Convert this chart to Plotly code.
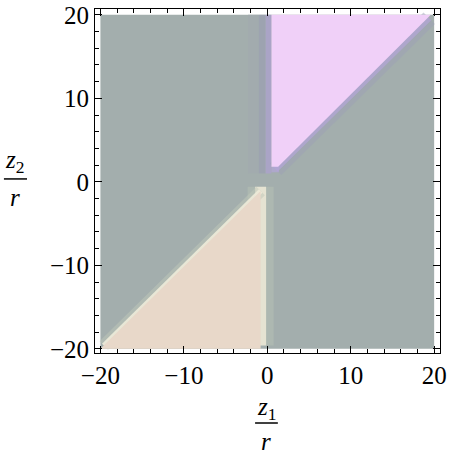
import plotly.graph_objects as go

# region outlines (data units, z/r)
BOX_X = [-20, 20, 20, -20]
BOX_Y = [-20, -20, 20, 20]
PINK_X = [0.5, 0.5, 19.6, 1.3]
PINK_Y = [1.8, 20, 20, 1.8]
PEACH_X = [-20, -0.8, -0.8]
PEACH_Y = [-20, -20, -1.1]
# soft vertical strip above the origin
STRIP_X = [[-2.3, -1.0], [-1.0, -0.2], [-0.2, 0.5]]
STRIP_Y = [1.0, 20]
# edges of the two regions
PINK_DIAG_X = [1.0, 19.4]
PINK_DIAG_Y = [1.5, 19.6]
PEACH_DIAG_X = [-19.6, -0.8]
PEACH_DIAG_Y = [-19.6, -1.1]
PEACH_EDGE_X = [-0.8, -0.8]
PEACH_EDGE_Y = [-19.6, -0.6]

TICKS = [-20, -10, 0, 10, 20]

GRAY = "#a3aead"
PINK = "#f0d0f8"
PEACH = "#e8d8c9"
STRIP_COLORS = ["#a2abae", "#9da3b0", "#aaa4c6"]

FONT = "Liberation Serif"

fig = go.Figure()


def poly(xs, ys, color, opacity=1.0):
    fig.add_trace(go.Scatter(
        x=list(xs) + [xs[0]], y=list(ys) + [ys[0]],
        mode="lines", fill="toself", fillcolor=color,
        line=dict(width=0, color=color), opacity=opacity,
        hoverinfo="skip", showlegend=False,
    ))


def edge(xs, ys, color, width, opacity=1.0):
    fig.add_trace(go.Scatter(
        x=xs, y=ys, mode="lines",
        line=dict(width=width, color=color), opacity=opacity,
        hoverinfo="skip", showlegend=False,
    ))


poly(BOX_X, BOX_Y, GRAY)

# vertical strip above zero
for (x0, x1), c in zip(STRIP_X, STRIP_COLORS):
    poly([x0, x1, x1, x0], [STRIP_Y[0], STRIP_Y[0], STRIP_Y[1], STRIP_Y[1]], c)

# blurred purple rim of the pink region
edge(PINK_DIAG_X, PINK_DIAG_Y, "#9ea2b6", 16, 0.5)
edge(PINK_DIAG_X, PINK_DIAG_Y, "#b4a6d8", 6, 0.7)
edge([0.5, 1.4], [1.5, 1.5], "#b4a6d8", 6, 0.7)
poly(PINK_X, PINK_Y, PINK)

# blurred cream rim of the peach region
edge(PEACH_EDGE_X, PEACH_EDGE_Y, "#b4c0b4", 26, 0.6)
edge(PEACH_EDGE_X, PEACH_EDGE_Y, "#ece8d6", 11, 0.9)
edge(PEACH_DIAG_X, PEACH_DIAG_Y, "#c0c9ba", 12, 0.5)
edge(PEACH_DIAG_X, PEACH_DIAG_Y, "#efecda", 5, 0.9)
poly(PEACH_X, PEACH_Y, PEACH)

axis_common = dict(
    tickvals=TICKS,
    ticks="inside", ticklen=7, tickwidth=1, tickcolor="black",
    minor=dict(dtick=2, tick0=0, ticks="inside", ticklen=4, tickcolor="black"),
    showline=True, linecolor="black", linewidth=1, mirror="allticks",
    showgrid=False, zeroline=False, automargin=False,
    tickfont=dict(family=FONT, size=25, color="black"),
    fixedrange=True,
)

fig.update_xaxes(range=[-20.65, 20.7], **axis_common)
fig.update_yaxes(range=[-20.5, 20.7], **axis_common)

# axis titles as stacked fractions
title_font = dict(family=FONT, size=25, color="black")
frac = dict(xref="paper", yref="paper", showarrow=False, font=title_font,
            xanchor="center", yanchor="middle")
fig.add_annotation(x=0.496, y=-0.16, text="<i>z</i><sub>1</sub>", **frac)
fig.add_annotation(x=0.496, y=-0.258, text="<i>r</i>", **frac)
fig.add_shape(type="line", xref="paper", yref="paper",
              x0=0.464, x1=0.530, y0=-0.2035, y1=-0.2035,
              line=dict(color="black", width=1.5))

fig.add_annotation(x=-0.232, y=0.556, text="<i>z</i><sub>2</sub>", **frac)
fig.add_annotation(x=-0.232, y=0.452, text="<i>r</i>", **frac)
fig.add_shape(type="line", xref="paper", yref="paper",
              x0=-0.264, x1=-0.197, y0=0.506, y1=0.506,
              line=dict(color="black", width=1.5))

fig.update_layout(
    width=450, height=455,
    margin=dict(l=95, r=10, t=9, b=102),
    paper_bgcolor="white", plot_bgcolor="white",
    font=dict(family=FONT),
    showlegend=False,
)

fig.write_html("out.html", config={"displayModeBar": False},
               post_script="document.body.style.margin='0';")
